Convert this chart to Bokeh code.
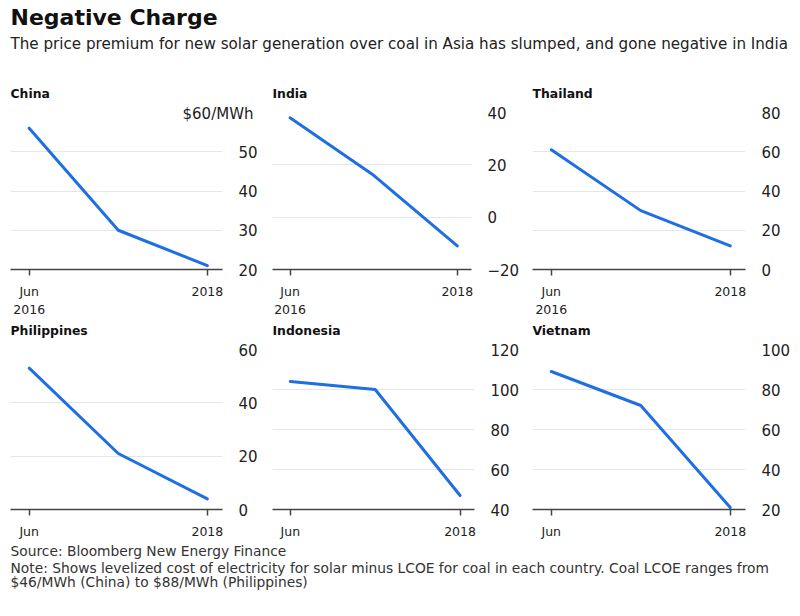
from bokeh.plotting import figure
from bokeh.models import Range1d, FixedTicker, Title, Grid
from bokeh.layouts import column, row
from bokeh.core.properties import value
from bokeh.embed import file_html
from bokeh.resources import INLINE

# ---------------- data ----------------
title_text = "Negative Charge"
subtitle_text = "The price premium for new solar generation over coal in Asia has slumped, and gone negative in India"
source_text = "Source: Bloomberg New Energy Finance"
note_lines = [
    "Note: Shows levelized cost of electricity for solar minus LCOE for coal in each country. Coal LCOE ranges from",
    "$46/MWh (China) to $88/MWh (Philippines)",
]

x_index = [0, 1, 2]
x_labels_top = ["Jun\n2016", "", "2018"]
x_labels_bottom = ["Jun", "", "2018"]

countries = ["China", "India", "Thailand", "Philippines", "Indonesia", "Vietnam"]
china = [56, 30, 21]
india = [38, 16, -11]
thailand = [61, 30, 12]
philippines = [53, 21, 4]
indonesia = [104, 100, 47]
vietnam = [89, 72, 21]

china_ticks = [20, 30, 40, 50, 60]
india_ticks = [-20, 0, 20, 40]
thailand_ticks = [0, 20, 40, 60, 80]
philippines_ticks = [0, 20, 40, 60]
indonesia_ticks = [40, 60, 80, 100, 120]
vietnam_ticks = [20, 40, 60, 80, 100]
unit_label = "$60/MWh"

# ---------------- style ----------------
FONT = "DejaVu Sans"
BLUE = "#1f6fe3"
TXT = "#222222"
GRID = "#e6e6e6"
AXIS = "#444444"

X0, X1 = -0.21, 2.17


def panel(name, vals, ticks, xlabels, width, height, left, right, unit=None):
    p = figure(width=width, height=height, output_backend="svg", toolbar_location=None,
               x_range=Range1d(X0, X1), y_range=Range1d(ticks[0], ticks[-1]),
               y_axis_location="right",
               min_border_left=left, min_border_right=right,
               min_border_top=0, min_border_bottom=0)
    p.outline_line_color = None
    p.background_fill_color = "white"
    p.border_fill_color = None
    p.xgrid.grid_line_color = None
    p.ygrid.grid_line_color = GRID
    p.ygrid.grid_line_width = 1

    ya = p.yaxis[0]
    ya.ticker = FixedTicker(ticks=ticks)
    ya.axis_line_color = None
    ya.major_tick_line_color = None
    ya.minor_tick_line_color = None
    ya.major_label_standoff = 10
    ya.major_label_text_font = FONT
    ya.major_label_text_font_size = "15px"
    ya.major_label_text_color = TXT

    xa = p.xaxis[0]
    xa.ticker = FixedTicker(ticks=[x for x, l in zip(x_index, xlabels) if l])
    xa.major_label_overrides = {x: l for x, l in zip(x_index, xlabels) if l}
    xa.axis_line_color = AXIS
    xa.axis_line_width = 1.5
    xa.major_tick_line_color = AXIS
    xa.major_tick_line_width = 1.5
    xa.major_tick_out = 6
    xa.major_tick_in = 0
    xa.minor_tick_line_color = None
    xa.major_label_standoff = 8
    xa.major_label_text_font = FONT
    xa.major_label_text_font_size = "12.5px"
    xa.major_label_text_color = TXT
    xa.major_label_text_line_height = 1.2

    p.line(x_index, vals, line_color=BLUE, line_width=3, line_join="round", line_cap="round")

    if unit:
        # unit label straddling the top gridline, right of the frame
        ya.major_label_overrides = {ticks[-1]: ""}
        p.ygrid.ticker = FixedTicker(ticks=ticks[:-1])
        try:
            p.add_layout(Grid(dimension=1, ticker=FixedTicker(ticks=[ticks[-1]]),
                              cross_bounds=(X0, 1.62), grid_line_color=GRID))
        except Exception:
            pass
        p.add_layout(Title(text=unit, align="right", offset=-31, vertical_align="bottom",
                           standoff=-20.5, text_font=FONT, text_font_size="15px",
                           text_font_style="normal", text_color=TXT), "above")
    p.add_layout(Title(text=name, align="left", offset=0, vertical_align="top",
                       standoff=20, text_font=FONT, text_font_size="12.4px",
                       text_font_style="bold", text_color="#111111"), "above")
    return p


# figure widths / borders so that frames sit at x = 10..222, 272..483, 532..745
W = [262, 260, 278]
L = [10, 10, 10]
R = [40, 39, 55]
TOP_H, BOT_H = 244, 229

p1 = panel(countries[0], china, china_ticks, x_labels_top, W[0], TOP_H, L[0], R[0], unit=unit_label)
p2 = panel(countries[1], india, india_ticks, x_labels_top, W[1], TOP_H, L[1], R[1])
p3 = panel(countries[2], thailand, thailand_ticks, x_labels_top, W[2], TOP_H, L[2], R[2])
p4 = panel(countries[3], philippines, philippines_ticks, x_labels_bottom, W[0], BOT_H, L[0], R[0])
p5 = panel(countries[4], indonesia, indonesia_ticks, x_labels_bottom, W[1], BOT_H, L[1], R[1])
p6 = panel(countries[5], vietnam, vietnam_ticks, x_labels_bottom, W[2], BOT_H, L[2], R[2])


def text_fig(height):
    f = figure(width=800, height=height, output_backend="svg", toolbar_location=None,
               x_range=Range1d(0, 800), y_range=Range1d(0, height),
               x_axis_location=None, y_axis_location=None, min_border=0)
    f.xgrid.visible = False
    f.ygrid.visible = False
    f.outline_line_color = None
    f.background_fill_color = None
    f.border_fill_color = None
    return f


HEAD_H = 75
head = text_fig(HEAD_H)
head.text(x=[10], y=[HEAD_H - 17], text=[title_text], text_font=value(FONT), text_font_style="bold",
          text_font_size="22px", text_color="#111111", text_baseline="alphabetic")
head.text(x=[10], y=[HEAD_H - 43], text=[subtitle_text], text_font=value(FONT),
          text_font_size="15.15px", text_color=TXT, text_baseline="alphabetic")

FOOT_H = 75
foot = text_fig(FOOT_H)
foot.text(x=[10], y=[FOOT_H - 9], text=[source_text], text_font=value(FONT),
          text_font_size="13.8px", text_color="#333333", text_baseline="alphabetic")
foot.text(x=[10, 10], y=[FOOT_H - 26, FOOT_H - 40], text=note_lines, text_font=value(FONT),
          text_font_size="13.8px", text_color="#333333", text_baseline="alphabetic")

layout = column(head,
                row(p1, p2, p3),
                row(p4, p5, p6, styles={"margin-top": "-7px"}),
                foot)
open("out.html", "w").write(file_html(layout, INLINE))
